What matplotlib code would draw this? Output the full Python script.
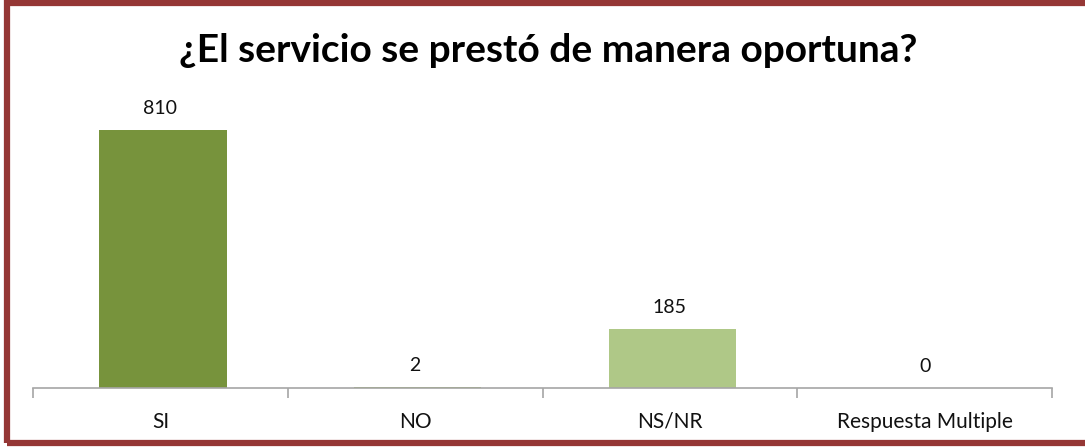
import matplotlib.pyplot as plt
from matplotlib.patches import Rectangle

categories = ['SI', 'NO', 'NS/NR', 'Respuesta Multiple']
values = [810, 2, 185, 0]
bar_colors = ['#77933C', '#9BBB59', '#AFC887', '#9BBB59']
title = '¿El servicio se prestó de manera oportuna?'

plt.rcParams['font.family'] = ['Lato', 'DejaVu Sans']

fig = plt.figure(figsize=(10.85, 4.47), dpi=100)

# borde rojo oscuro del recuadro
fig.patches.append(Rectangle((7 / 1085, 4 / 447), 1.2, 440 / 447, transform=fig.transFigure,
                             fill=False, edgecolor='#953735', linewidth=4.5, zorder=0))

ax = fig.add_axes([33 / 1085, 59 / 447, (1052 - 33) / 1085, 288 / 447])
x = range(len(categories))
ax.bar([i + 0.01 for i in x], values, width=0.5, color=bar_colors)
ax.set_xlim(-0.5, len(categories) - 0.5)
ax.set_ylim(0, 810 * 288 / 258)

for i, v in enumerate(values):
    ax.text(i, v + 810 * 13 / 258, str(v), ha='center', va='bottom', fontsize=14, color='#111111')

for s in ['top', 'right', 'left']:
    ax.spines[s].set_visible(False)
ax.spines['bottom'].set_color('#A6A6A6')
ax.spines['bottom'].set_linewidth(1.2)
ax.set_yticks([])
ax.set_xticks([i - 0.5 for i in range(len(categories) + 1)], minor=False)
ax.set_xticklabels([''] * (len(categories) + 1))
ax.tick_params(axis='x', length=7, color='#A6A6A6', width=1.2)
ax.set_xticks(list(x), minor=True)
ax.set_xticklabels(categories, minor=True, fontsize=15, color='#111111')
ax.tick_params(axis='x', which='minor', length=0, pad=17)

fig.text(548 / 1085, 1 - 50 / 447, title, ha='center', va='center',
         fontsize=28, fontweight='bold', color='#000000')

fig.savefig('out.png', dpi=100, facecolor='white')
